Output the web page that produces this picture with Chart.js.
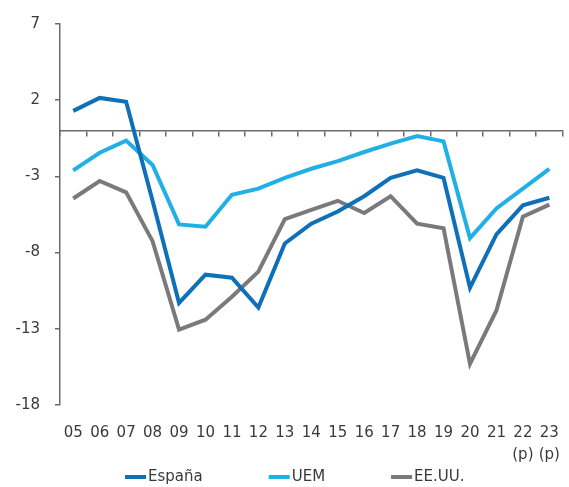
<!DOCTYPE html>
<html>
<head>
<meta charset="utf-8">
<script src="https://cdn.jsdelivr.net/npm/chart.js@4"></script>
<style>
  html, body { margin: 0; padding: 0; background: #fff; overflow: hidden; }
  #deficit { display: block; }
</style>
</head>
<body>
<canvas id="deficit" width="569" height="487"></canvas>
<script>
// years 2005-2023, last two are forecasts
const years = ['05', '06', '07', '08', '09', '10', '11', '12', '13', '14', '15', '16', '17', '18', '19', '20', '21', ['22', '(p)'], ['23', '(p)']];
const yTicks = [-18, -13, -8, -3, 2, 7];

const seriesNames = ['España', 'UEM', 'EE.UU.'];
const seriesColors = ['rgb(14, 112, 184)', 'rgb(32, 176, 230)', 'rgb(122, 122, 124)'];

const espana = [1.3, 2.15, 1.9, -4.6, -11.3, -9.45, -9.65, -11.6, -7.4, -6.1, -5.3, -4.3, -3.1, -2.6, -3.1, -10.3, -6.8, -4.9, -4.4];
const uem = [-2.6, -1.45, -0.65, -2.25, -6.15, -6.3, -4.2, -3.8, -3.1, -2.5, -2.0, -1.4, -0.85, -0.35, -0.7, -7.05, -5.1, -3.8, -2.5];
const eeuu = [-4.45, -3.3, -4.05, -7.25, -13.05, -12.4, -10.9, -9.25, -5.8, -5.2, -4.6, -5.4, -4.3, -6.1, -6.4, -15.3, -11.8, -5.65, -4.85];

const seriesValues = [espana, uem, eeuu];

const axisColor = '#6b6b6b';
const textColor = '#3a3a3a';
const font = { family: 'DejaVu Sans', size: 15, lineHeight: 1.47 };

const datasets = seriesNames.map((name, i) => ({
  label: name,
  data: seriesValues[i],
  borderColor: seriesColors[i],
  backgroundColor: seriesColors[i],
  borderWidth: 4,
  pointRadius: 0,
  tension: 0,
  fill: false
}));

// legend row under the axis: short line + name, fixed gap between items
const lineLegend = {
  id: 'lineLegend',
  afterDraw(chart) {
    const c = chart.ctx;
    let x = 125;
    const y = 477;
    c.save();
    c.font = '15px "DejaVu Sans"';
    c.textBaseline = 'middle';
    c.textAlign = 'left';
    chart.data.datasets.forEach(ds => {
      c.fillStyle = ds.borderColor;
      c.fillRect(x, y - 2, 21, 4);
      x += 23;
      c.fillStyle = textColor;
      c.fillText(ds.label, x, y);
      x += c.measureText(ds.label).width + 66;
    });
    c.restore();
  }
};

const ctx = document.getElementById('deficit').getContext('2d');
const deficit = new Chart(ctx, {
  type: 'line',
  data: {
    labels: years,
    datasets: datasets
  },
  plugins: [lineLegend],
  options: {
    responsive: false,
    animation: false,
    layout: {
      padding: { top: 21, right: 2, left: 0, bottom: 0 }
    },
    plugins: {
      legend: { display: false },
      title: { display: false },
      tooltip: { enabled: false }
    },
    scales: {
      x: {
        type: 'category',
        offset: true,
        grid: { display: false },
        border: { display: false },
        ticks: {
          color: textColor,
          font: font,
          padding: 9,
          maxRotation: 0,
          autoSkip: false
        },
        afterFit: function(scale) {
          scale.height = 82;
        }
      },
      x0: {
        type: 'category',
        position: { y: 0 },
        offset: true,
        grid: {
          offset: true,
          drawOnChartArea: false,
          drawTicks: true,
          tickLength: 5,
          color: axisColor,
          lineWidth: 1.5
        },
        border: { display: true, color: axisColor, width: 1.5 },
        ticks: { display: false }
      },
      y: {
        min: -18,
        max: 7,
        grid: {
          drawOnChartArea: false,
          drawTicks: true,
          tickLength: 5,
          color: axisColor,
          lineWidth: 1.5
        },
        border: { display: true, color: axisColor, width: 1.5 },
        ticks: {
          color: textColor,
          font: { family: 'DejaVu Sans', size: 15 },
          padding: 15
        },
        afterBuildTicks: function(scale) {
          scale.ticks = yTicks.map(v => ({ value: v }));
        },
        afterFit: function(scale) {
          scale.width = 60;
        }
      }
    }
  }
});
</script>
</body>
</html>
